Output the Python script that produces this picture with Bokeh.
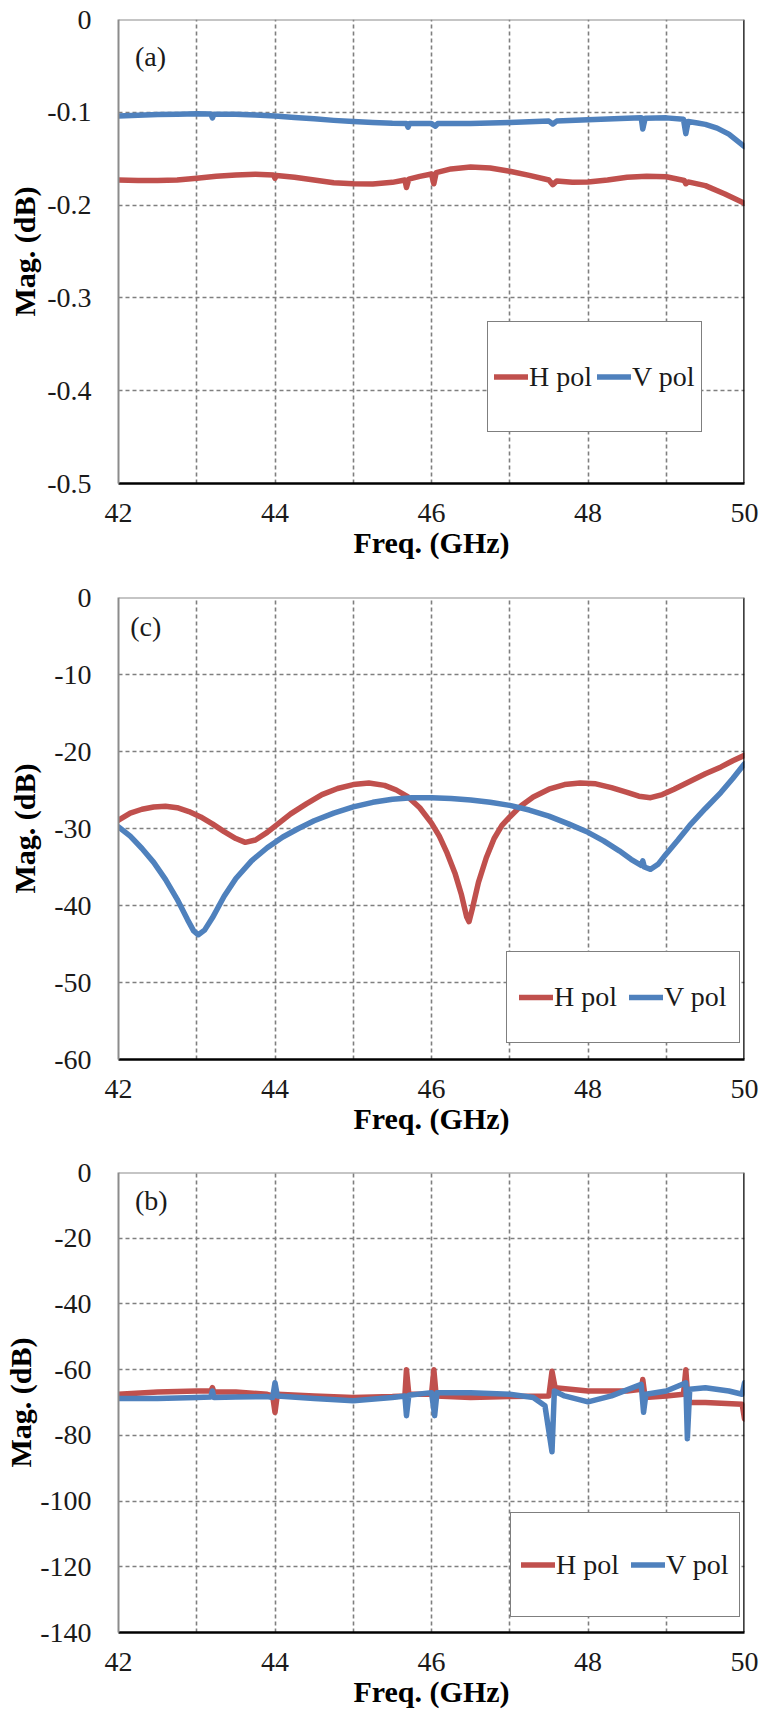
from bokeh.plotting import figure
from bokeh.layouts import column
from bokeh.models import FixedTicker, Label, Legend, LegendItem, Range1d, Span
from bokeh.embed import file_html
from bokeh.resources import INLINE

FONT = "Liberation Serif"
RED = "#C0504D"
BLUE = "#4F81BD"
GRID = "#7f7f7f"
TXT = "#1a1a1a"

x_ticks = [42, 44, 46, 48, 50]
x_grid = [43, 44, 45, 46, 47, 48, 49]

# ---------- panel (a) ----------
yticks_a = [0, -0.1, -0.2, -0.3, -0.4, -0.5]
ylabels_a = ["0", "-0.1", "-0.2", "-0.3", "-0.4", "-0.5"]
fa_h = [42.0, 42.25, 42.5, 42.75, 43.0, 43.25, 43.5, 43.75, 43.98, 44.0, 44.02, 44.25, 44.5,
        44.75, 45.0, 45.25, 45.5, 45.66, 45.68, 45.71, 45.85, 46.0, 46.03, 46.06, 46.25, 46.5,
        46.75, 47.0, 47.25, 47.5, 47.55, 47.6, 47.8, 48.0, 48.25, 48.5, 48.75, 49.0, 49.23,
        49.25, 49.28, 49.5, 49.75, 50.0]
ma_h = [-0.173, -0.1735, -0.1735, -0.173, -0.171, -0.169, -0.1675, -0.1668, -0.1675, -0.171,
        -0.168, -0.170, -0.173, -0.176, -0.177, -0.1772, -0.1755, -0.173, -0.181, -0.172,
        -0.169, -0.1665, -0.177, -0.165, -0.161, -0.159, -0.160, -0.1635, -0.168, -0.173,
        -0.178, -0.174, -0.1755, -0.175, -0.173, -0.170, -0.169, -0.1695, -0.1735, -0.177,
        -0.175, -0.179, -0.188, -0.198]
fa_v = [42.0, 42.25, 42.5, 42.75, 43.0, 43.18, 43.2, 43.22, 43.5, 43.75, 44.0, 44.25, 44.5,
        44.75, 45.0, 45.25, 45.5, 45.68, 45.7, 45.72, 46.0, 46.05, 46.08, 46.5, 47.0, 47.5,
        47.55, 47.6, 48.0, 48.5, 48.68, 48.7, 48.73, 49.0, 49.22, 49.25, 49.28, 49.4, 49.5,
        49.65, 49.8, 50.0]
ma_v = [-0.104, -0.1032, -0.1025, -0.102, -0.1015, -0.1017, -0.106, -0.102, -0.1022, -0.103,
        -0.104, -0.1055, -0.107, -0.1087, -0.110, -0.111, -0.1118, -0.112, -0.116, -0.112,
        -0.1122, -0.115, -0.1122, -0.112, -0.111, -0.1095, -0.1125, -0.1095, -0.108, -0.1063,
        -0.1058, -0.118, -0.1065, -0.106, -0.1075, -0.123, -0.110, -0.1115, -0.113, -0.117,
        -0.1235, -0.137]

# ---------- panel (c) ----------
yticks_c = [0, -10, -20, -30, -40, -50, -60]
ylabels_c = ["0", "-10", "-20", "-30", "-40", "-50", "-60"]
fc_h = [42.0, 42.15, 42.3, 42.45, 42.6, 42.75, 42.9, 43.05, 43.2, 43.35, 43.5, 43.62, 43.75,
        43.9, 44.05, 44.2, 44.4, 44.6, 44.8, 45.0, 45.2, 45.4, 45.55, 45.7, 45.85, 46.0, 46.1,
        46.2, 46.3, 46.38, 46.45, 46.48, 46.52, 46.6, 46.7, 46.8, 46.9, 47.0, 47.15, 47.3, 47.5,
        47.7, 47.9, 48.1, 48.3, 48.5, 48.65, 48.8, 48.95, 49.1, 49.3, 49.5, 49.7, 49.85, 50.0]
mc_h = [-28.9, -28.0, -27.5, -27.2, -27.1, -27.3, -27.8, -28.5, -29.4, -30.4, -31.3, -31.8,
        -31.5, -30.5, -29.3, -28.1, -26.8, -25.6, -24.8, -24.3, -24.1, -24.4, -25.0, -25.9,
        -27.3, -29.3, -31.0, -33.2, -35.8, -38.5, -41.5, -42.1, -40.5, -37.0, -33.8, -31.3,
        -29.6, -28.5, -27.0, -25.9, -24.9, -24.3, -24.1, -24.2, -24.7, -25.3, -25.8, -26.0,
        -25.6, -24.9, -23.9, -22.9, -22.0, -21.2, -20.5]
fc_v = [42.0, 42.15, 42.3, 42.45, 42.6, 42.75, 42.88, 42.96, 43.02, 43.1, 43.2, 43.35, 43.5,
        43.7, 43.9, 44.1, 44.3, 44.5, 44.75, 45.0, 45.25, 45.5, 45.75, 46.0, 46.25, 46.5,
        46.75, 47.0, 47.25, 47.5, 47.75, 48.0, 48.2, 48.4, 48.55, 48.68, 48.7, 48.72, 48.8,
        48.9, 49.0, 49.15, 49.3, 49.5, 49.7, 49.85, 50.0]
mc_v = [-29.8, -31.0, -32.6, -34.4, -36.6, -39.2, -41.8, -43.3, -43.8, -43.2, -41.6, -38.8,
        -36.5, -34.2, -32.5, -31.1, -30.0, -29.0, -28.0, -27.2, -26.6, -26.2, -26.0, -26.0,
        -26.1, -26.3, -26.6, -27.0, -27.6, -28.4, -29.4, -30.5, -31.6, -32.9, -34.0, -34.8,
        -34.2, -35.0, -35.3, -34.6, -33.3, -31.5, -29.6, -27.4, -25.3, -23.5, -21.6]

# ---------- panel (b) ----------
yticks_b = [0, -20, -40, -60, -80, -100, -120, -140]
ylabels_b = ["0", "-20", "-40", "-60", "-80", "-100", "-120", "-140"]
fb_h = [42.0, 42.5, 43.0, 43.18, 43.2, 43.22, 43.5, 43.9, 43.97, 44.0, 44.03, 44.5, 45.0, 45.5,
        45.66, 45.68, 45.71, 46.0, 46.03, 46.06, 46.5, 47.0, 47.5, 47.54, 47.58, 48.0, 48.5, 48.68,
        48.7, 48.73, 49.0, 49.22, 49.25, 49.28, 49.5, 49.97, 50.0]
mb_h = [-67.5, -66.8, -66.5, -66.5, -65.5, -66.8, -66.8, -67.5, -68.0, -73.0, -67.5, -68.0, -68.5,
        -68.2, -68.0, -60.0, -67.5, -67.5, -60.0, -68.0, -68.5, -68.2, -68.0, -60.5, -65.5, -66.5,
        -66.5, -66.0, -63.0, -68.5, -68.0, -67.5, -60.0, -70.0, -70.0, -70.5, -75.0]
fb_v = [42.0, 42.5, 43.0, 43.18, 43.2, 43.22, 43.5, 43.9, 43.97, 44.0, 44.03, 44.5, 45.0, 45.5,
        45.66, 45.68, 45.71, 46.0, 46.04, 46.07, 46.5, 47.0, 47.3, 47.45, 47.54, 47.57, 47.7, 48.0,
        48.3, 48.68, 48.71, 48.74, 49.0, 49.2, 49.25, 49.27, 49.3, 49.5, 49.8, 49.97, 50.0]
mb_v = [-68.8, -68.8, -68.5, -68.3, -66.5, -68.5, -68.3, -68.2, -68.5, -64.0, -68.0, -68.8, -69.5,
        -68.5, -68.0, -74.0, -67.8, -67.0, -74.0, -67.0, -67.0, -67.5, -68.5, -71.0, -85.0, -66.5,
        -68.0, -69.8, -68.0, -64.5, -73.0, -67.5, -66.5, -64.5, -64.0, -81.0, -66.0, -65.5, -66.5,
        -67.5, -64.0]


def style_axis(ax):
    ax.major_tick_in = 0
    ax.major_tick_out = 0
    ax.minor_tick_in = 0
    ax.minor_tick_out = 0
    ax.major_label_text_font = FONT
    ax.major_label_text_font_size = "28px"
    ax.major_label_text_color = TXT
    ax.axis_label_text_font = FONT
    ax.axis_label_text_font_size = "30px"
    ax.axis_label_text_font_style = "bold"
    ax.axis_label_text_color = "black"


def make_panel(height, top, bottom, yr, yticks, ylabels, f_h, m_h, f_v, m_v, tag, tag_x, tag_y,
               leg_loc, leg_pad, leg_spacing, leg_h, ytitle_standoff):
    p = figure(width=762, height=height, x_range=Range1d(42, 50), y_range=Range1d(*yr),
               output_backend="svg", toolbar_location=None,
               min_border_left=118, min_border_right=18, min_border_top=top,
               min_border_bottom=bottom)
    p.outline_line_color = None

    # grids
    p.xgrid.ticker = FixedTicker(ticks=x_grid)
    p.ygrid.ticker = FixedTicker(ticks=yticks[1:-1])
    p.xgrid.grid_line_color = GRID
    p.ygrid.grid_line_color = GRID
    p.xgrid.grid_line_dash = "4 3"
    p.ygrid.grid_line_dash = "4 3"
    p.xgrid.grid_line_width = 1.6
    p.ygrid.grid_line_width = 1.6

    xax = p.xaxis[0]
    yax = p.yaxis[0]
    xax.ticker = FixedTicker(ticks=x_ticks)
    yax.ticker = FixedTicker(ticks=yticks)
    yax.major_label_overrides = dict(zip(yticks, ylabels))
    style_axis(xax)
    style_axis(yax)
    xax.axis_label = "Freq. (GHz)"
    yax.axis_label = "Mag. (dB)"
    xax.major_label_standoff = 20
    xax.axis_label_standoff = 1
    yax.major_label_standoff = 27
    yax.axis_label_standoff = ytitle_standoff
    xax.axis_line_color = "black"
    xax.axis_line_width = 2.5
    yax.axis_line_color = "#8c8c8c"
    yax.axis_line_width = 2

    # frame edges on the right (black) and top (grey)
    p.add_layout(Span(location=p.x_range.end, dimension="height", line_color="black",
                      line_width=2.5))
    p.add_layout(Span(location=p.y_range.end, dimension="width", line_color="#8c8c8c",
                      line_width=2))

    rh = p.line(f_h, m_h, line_color=RED, line_width=5.5, line_join="round", line_cap="round")
    rv = p.line(f_v, m_v, line_color=BLUE, line_width=5.5, line_join="round", line_cap="round")

    leg = Legend(items=[LegendItem(label="H pol", renderers=[rh]),
                        LegendItem(label="V pol", renderers=[rv])],
                 orientation="horizontal", location=leg_loc, margin=0,
                 padding=leg_pad, spacing=leg_spacing,
                 glyph_width=34, glyph_height=leg_h, label_height=leg_h, label_standoff=1,
                 label_text_font=FONT, label_text_font_size="28px", label_text_color=TXT,
                 border_line_color="black", border_line_width=1.5,
                 background_fill_color="white", background_fill_alpha=1.0)
    p.add_layout(leg)

    p.add_layout(Label(x=tag_x, y=tag_y, text=tag, text_font=FONT, text_font_size="28px",
                       text_baseline="middle", text_color=TXT))
    return p


pa = make_panel(570, 19, 87, (-0.5, 0), yticks_a, ylabels_a, fa_h, ma_h, fa_v, ma_v,
                "(a)", 42.21, -0.040, (369, 51), 6, 5, 97, 3)
pc = make_panel(575, 27, 86, (-60, 0), yticks_c, ylabels_c, fc_h, mc_h, fc_v, mc_v,
                "(c)", 42.15, -3.8, (388, 16), 12, 12, 66, 10)
pb = make_panel(577, 27, 90, (-140, 0), yticks_b, ylabels_b, fb_h, mb_h, fb_v, mb_v,
                "(b)", 42.21, -8.5, (392, 15), 10, 12, 83, 0)

layout = column(pa, pc, pb)
open("out.html", "w").write(file_html(layout, INLINE))
